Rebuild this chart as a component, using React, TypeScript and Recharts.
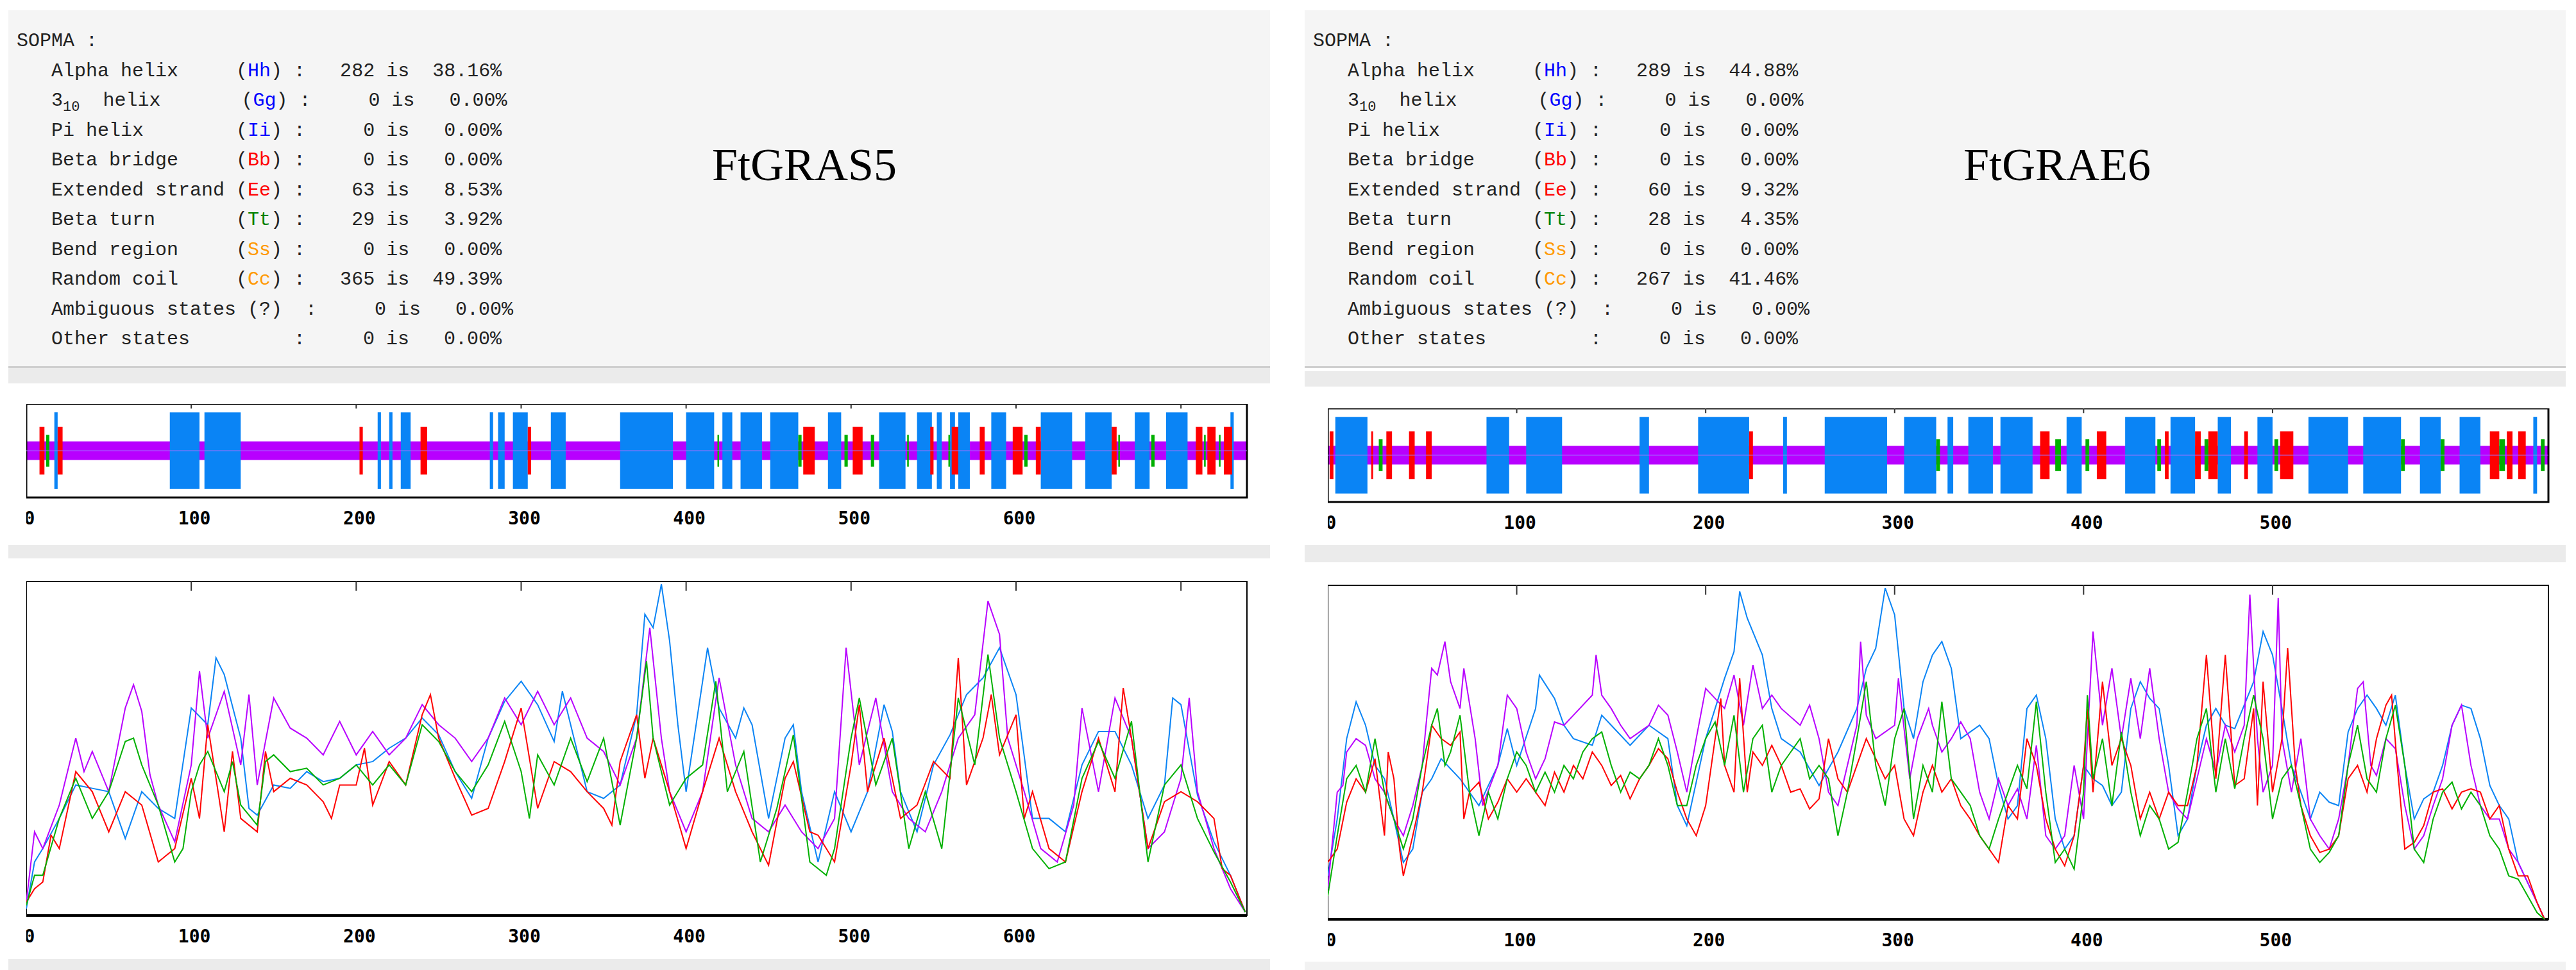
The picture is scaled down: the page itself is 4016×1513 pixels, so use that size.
import React from 'react'
import { ComposedChart, LineChart, Line, XAxis, YAxis, ReferenceArea, ReferenceLine } from 'recharts'

// ---- SOPMA summary rows ----
const rowsA = [
  ['Alpha helix     ', 'Hh', ' :   282 is  38.16%'],
  ['3|  helix       ', 'Gg', ' :     0 is   0.00%'],
  ['Pi helix        ', 'Ii', ' :     0 is   0.00%'],
  ['Beta bridge     ', 'Bb', ' :     0 is   0.00%'],
  ['Extended strand ', 'Ee', ' :    63 is   8.53%'],
  ['Beta turn       ', 'Tt', ' :    29 is   3.92%'],
  ['Bend region     ', 'Ss', ' :     0 is   0.00%'],
  ['Random coil     ', 'Cc', ' :   365 is  49.39%'],
]
const rowsB = [
  ['Alpha helix     ', 'Hh', ' :   289 is  44.88%'],
  ['3|  helix       ', 'Gg', ' :     0 is   0.00%'],
  ['Pi helix        ', 'Ii', ' :     0 is   0.00%'],
  ['Beta bridge     ', 'Bb', ' :     0 is   0.00%'],
  ['Extended strand ', 'Ee', ' :    60 is   9.32%'],
  ['Beta turn       ', 'Tt', ' :    28 is   4.35%'],
  ['Bend region     ', 'Ss', ' :     0 is   0.00%'],
  ['Random coil     ', 'Cc', ' :   267 is  41.46%'],
]
const codeColors: Record<string, string> = {
  Hh: '#0000ff', Gg: '#0000ff', Ii: '#0000ff', Bb: '#ff0000', Ee: '#ff0000', Tt: '#008000', Ss: '#ff9900', Cc: '#ff9900',
}

// ---- FtGRAS5 strip (residue ranges) ----
const lenA = 740
const helixA = [[17, 19], [87, 105], [108, 130], [213, 215], [220, 222], [227, 233], [281, 283], [286, 290], [295, 304], [318, 327], [360, 392], [400, 417], [422, 428], [433, 446], [451, 468], [486, 494], [517, 533], [540, 549], [552, 555], [560, 563], [565, 572], [585, 594], [615, 634], [642, 658], [672, 681], [691, 704], [730, 732]]
const strandA = [[8, 11], [19, 22], [202, 204], [239, 243], [304, 306], [471, 478], [501, 507], [548, 550], [561, 565], [578, 581], [598, 604], [612, 615], [658, 661], [709, 713], [716, 721], [726, 731]]
const turnA = [[12, 14], [419, 420], [468, 470], [496, 498], [512, 514], [534, 535], [559, 560], [605, 607], [662, 663], [682, 684], [714, 715], [723, 724]]

// ---- FtGRAE6 strip ----
const lenB = 646
const helixB = [[4, 21], [84, 96], [105, 124], [165, 170], [196, 223], [241, 243], [263, 296], [305, 322], [328, 331], [339, 352], [356, 373], [391, 399], [422, 438], [446, 459], [471, 478], [492, 500], [519, 540], [548, 568], [578, 589], [599, 610], [638, 640]]
const strandB = [[1, 3], [23, 24], [31, 34], [43, 46], [52, 55], [223, 225], [377, 382], [407, 412], [443, 445], [459, 462], [466, 471], [485, 487], [504, 511], [615, 620], [624, 627], [630, 634]]
const turnB = [[27, 29], [322, 324], [385, 388], [401, 403], [439, 441], [464, 466], [501, 503], [568, 570], [589, 591], [620, 623], [642, 644]]

const ticksA = [0, 100, 200, 300, 400, 500, 600]
const ticksB = [0, 100, 200, 300, 400, 500]

// ---- FtGRAS5 profile curves [residue, value] ----
const blueA = [[0,2],[5,16],[10,20],[20,29],[30,39],[40,38],[50,37],[60,23],[70,37],[80,32],[90,29],[100,62],[110,57],[115,77],[120,72],[130,53],[135,32],[140,30],[150,39],[160,38],[170,43],[180,40],[190,41],[200,45],[210,46],[220,50],[230,53],[240,59],[250,54],[260,43],[270,35],[280,53],[290,64],[300,70],[310,63],[320,52],[325,67],[330,57],[340,37],[350,35],[360,39],[370,60],[375,90],[380,86],[385,99],[390,82],[395,57],[400,37],[410,70],[413,80],[420,62],[430,53],[435,62],[440,57],[450,29],[460,53],[465,57],[470,37],[480,16],[490,37],[500,25],[510,37],[520,63],[525,55],[530,37],[540,25],[550,45],[560,54],[570,66],[580,71],[590,80],[600,66],[610,29],[620,29],[630,25],[640,45],[650,55],[660,55],[670,45],[680,29],[690,39],[695,65],[700,63],[710,36],[720,22],[730,12],[739,1]]
const purpleA = [[0,4],[5,25],[10,20],[20,33],[30,53],[35,43],[40,49],[50,37],[60,62],[65,69],[70,61],[75,42],[80,33],[90,22],[100,45],[105,73],[110,53],[120,67],[130,45],[135,66],[140,39],[150,65],[160,56],[170,53],[180,48],[190,58],[200,48],[210,55],[220,48],[230,53],[240,63],[250,57],[260,53],[270,46],[280,53],[290,65],[300,57],[310,67],[320,57],[330,65],[340,53],[350,49],[360,39],[370,53],[378,86],[385,53],[390,37],[400,25],[410,37],[420,71],[430,45],[440,29],[450,25],[460,33],[470,25],[480,20],[490,29],[497,80],[505,45],[515,65],[525,37],[535,29],[545,25],[555,37],[565,53],[575,60],[583,94],[590,84],[595,53],[605,37],[615,20],[625,16],[635,33],[640,62],[650,37],[660,65],[670,53],[680,20],[690,25],[700,41],[705,65],[710,37],[720,20],[730,8],[739,1]]
const redA = [[0,4],[5,8],[10,10],[15,24],[20,20],[30,43],[40,37],[50,25],[60,37],[70,33],[80,16],[90,20],[100,41],[105,29],[110,57],[120,25],[125,49],[130,29],[140,25],[145,49],[150,37],[160,41],[170,39],[180,34],[185,29],[190,39],[200,39],[205,50],[210,33],[220,46],[230,39],[240,60],[245,66],[250,53],[260,41],[270,30],[280,32],[290,46],[300,62],[310,32],[320,46],[330,43],[340,37],[350,32],[355,27],[360,46],[370,60],[375,41],[380,53],[390,37],[400,20],[410,37],[420,53],[430,37],[440,25],[450,15],[460,41],[465,46],[475,25],[480,24],[490,16],[500,45],[505,63],[510,37],[520,53],[530,29],[540,33],[550,46],[560,41],[565,77],[570,39],[580,53],[585,66],[590,48],[600,60],[605,29],[610,37],[620,20],[630,16],[640,37],[650,53],[660,37],[665,68],[670,53],[680,20],[690,34],[700,37],[710,34],[720,29],[725,14],[730,12],[739,1]]
const greenA = [[0,3],[5,12],[10,12],[20,29],[30,41],[40,29],[50,37],[60,52],[65,53],[70,45],[80,33],[90,16],[95,20],[100,37],[105,45],[110,49],[120,37],[125,46],[130,33],[140,27],[145,46],[150,48],[160,43],[170,44],[180,39],[190,41],[200,45],[210,39],[220,45],[230,39],[240,57],[250,52],[260,43],[270,37],[280,45],[290,58],[300,43],[305,29],[310,48],[320,39],[330,53],[340,40],[350,53],[360,27],[370,53],[376,76],[380,53],[390,33],[400,41],[410,45],[418,70],[425,37],[435,49],[445,16],[455,32],[465,54],[475,16],[485,12],[490,20],[500,53],[505,65],[515,39],[525,53],[535,20],[545,37],[555,20],[565,65],[575,45],[583,78],[590,53],[600,37],[610,20],[620,14],[630,16],[640,41],[650,52],[660,41],[670,58],[680,16],[690,39],[700,45],[710,29],[720,19],[730,10],[739,1]]

// ---- FtGRAE6 profile curves ----
const blueB = [[0,13],[5,30],[10,54],[15,65],[20,58],[25,46],[30,42],[35,30],[40,17],[45,21],[50,38],[55,42],[60,48],[70,42],[80,34],[90,46],[95,57],[100,46],[110,63],[112,73],[120,66],[125,58],[130,54],[140,52],[145,61],[150,58],[160,52],[170,58],[180,54],[185,34],[190,28],[200,54],[210,72],[215,80],[218,98],[222,90],[230,79],[235,63],[240,54],[250,50],[260,40],[270,50],[280,63],[285,75],[290,81],[295,99],[300,91],[305,63],[310,54],[315,71],[320,79],[325,83],[330,75],[335,54],[340,56],[345,58],[350,54],[355,40],[360,30],[365,34],[370,63],[375,67],[380,54],[385,30],[390,21],[395,25],[400,46],[405,42],[410,40],[415,34],[420,38],[425,63],[430,71],[435,66],[440,63],[445,46],[450,25],[455,30],[460,46],[465,58],[470,63],[475,58],[480,57],[490,71],[495,86],[500,79],[505,63],[510,46],[515,38],[520,30],[525,38],[530,35],[535,34],[540,56],[545,63],[550,67],[555,63],[560,58],[565,67],[570,46],[575,30],[580,36],[585,38],[590,46],[595,58],[600,64],[605,63],[610,54],[615,40],[620,34],[625,30],[630,17],[640,5],[644,0]]
const purpleB = [[0,9],[5,38],[8,40],[10,50],[15,54],[20,52],[25,42],[30,38],[35,30],[40,25],[45,34],[50,46],[52,58],[55,75],[58,73],[62,83],[65,71],[70,63],[72,75],[78,54],[82,34],[90,46],[95,67],[100,63],[105,50],[110,42],[115,48],[120,59],[125,58],[130,61],[140,67],[142,79],[145,67],[150,63],[155,58],[160,54],[170,58],[175,64],[180,61],[185,50],[190,38],[195,54],[200,69],[210,63],[215,73],[220,58],[225,76],[230,63],[235,67],[240,63],[250,58],[255,64],[260,54],[265,38],[270,34],[280,58],[282,83],[285,61],[290,54],[300,58],[302,72],[308,42],[312,54],[318,63],[320,58],[325,50],[330,54],[335,59],[340,54],[345,38],[350,30],[355,42],[360,34],[365,39],[370,30],[375,52],[380,25],[385,21],[390,25],[395,46],[400,30],[402,54],[405,86],[410,58],[415,75],[420,54],[425,72],[430,54],[435,75],[440,54],[445,38],[450,33],[455,30],[460,42],[465,54],[470,44],[475,58],[480,50],[485,58],[488,97],[492,54],[495,38],[500,46],[503,96],[505,54],[510,38],[515,54],[520,30],[525,25],[530,21],[535,30],[540,46],[545,69],[548,71],[552,46],[555,43],[560,54],[565,51],[570,34],[575,21],[580,25],[585,34],[590,42],[595,58],[600,64],[605,46],[610,34],[615,30],[620,30],[625,21],[630,17],[640,5],[644,0]]
const redB = [[0,17],[5,21],[10,35],[15,42],[20,38],[25,48],[30,25],[32,50],[35,42],[38,21],[40,13],[45,25],[50,38],[55,58],[60,54],[65,52],[70,56],[72,30],[75,38],[80,41],[85,30],[90,35],[95,42],[100,38],[105,42],[110,38],[115,34],[120,44],[125,38],[130,46],[135,42],[140,50],[145,46],[150,40],[155,43],[160,36],[165,42],[170,46],[175,51],[180,48],[185,38],[190,30],[195,25],[200,34],[205,54],[208,66],[210,46],[215,38],[218,72],[222,38],[225,50],[230,46],[235,52],[240,46],[245,38],[250,39],[255,33],[260,36],[265,54],[270,42],[275,38],[280,46],[285,54],[290,48],[295,42],[300,46],[305,30],[310,25],[315,38],[320,46],[325,38],[330,42],[335,34],[340,30],[345,25],[350,21],[355,17],[360,34],[365,30],[370,54],[375,46],[380,30],[385,21],[390,16],[395,25],[400,46],[402,63],[405,38],[410,71],[415,46],[420,54],[425,46],[430,30],[435,38],[440,30],[445,38],[450,34],[455,34],[460,46],[465,79],[470,42],[475,79],[480,40],[485,42],[490,63],[492,34],[495,71],[500,38],[505,54],[508,81],[512,46],[515,34],[520,25],[525,20],[530,21],[535,25],[540,42],[545,46],[550,38],[555,54],[560,64],[563,67],[566,46],[570,21],[575,23],[580,28],[585,38],[590,39],[595,33],[600,38],[605,39],[610,38],[615,30],[620,34],[625,21],[630,13],[635,13],[640,5],[644,0]]
const greenB = [[0,7],[5,25],[10,42],[15,46],[20,38],[25,54],[30,38],[35,30],[40,21],[45,30],[50,46],[55,58],[58,63],[62,46],[65,50],[70,61],[75,38],[80,25],[85,38],[90,30],[95,42],[100,50],[105,46],[110,38],[115,44],[120,38],[125,46],[130,42],[135,50],[140,54],[145,56],[150,46],[155,38],[160,44],[165,42],[170,46],[175,54],[180,46],[185,34],[190,34],[195,46],[200,54],[205,59],[210,46],[215,61],[220,38],[225,54],[230,58],[235,38],[240,46],[245,50],[250,54],[255,42],[260,46],[265,42],[270,25],[275,38],[280,54],[285,71],[290,46],[295,34],[300,54],[305,63],[310,30],[315,46],[320,38],[325,65],[330,42],[335,38],[340,34],[345,25],[350,21],[355,30],[360,38],[365,46],[370,39],[375,65],[380,38],[385,17],[390,21],[395,15],[400,38],[402,67],[405,42],[410,54],[415,34],[420,56],[425,38],[430,25],[435,34],[440,30],[445,21],[450,23],[455,38],[460,54],[465,63],[470,38],[475,54],[480,39],[485,54],[490,67],[495,54],[500,30],[505,42],[510,46],[515,34],[520,21],[525,17],[530,20],[535,25],[540,46],[545,58],[550,42],[555,38],[560,54],[565,64],[570,46],[575,21],[580,17],[585,30],[590,38],[595,41],[600,33],[605,38],[610,34],[615,25],[620,21],[625,13],[630,12],[640,2],[644,0]]

const BLUE = '#0a84f5'
const PURPLE = '#b800ff'
const RED = '#ff0000'
const GREEN = '#00b000'

const mono = '"Liberation Mono", "DejaVu Sans Mono", monospace'

function TickLabel(props: any) {
  const { x, y, payload } = props
  return (
    <text x={x + 5} y={y + 34} textAnchor="middle" fontFamily='"DejaVu Sans Mono", monospace' fontWeight="bold" fontSize={28} fill="#000">
      {payload.value}
    </text>
  )
}

function SummaryBox({ left, width, rows, title, titleX }: any) {
  return (
    <div style={{ position: 'absolute', left, top: 16, width, height: 555, background: '#f5f5f5', borderBottom: '3px solid #cfcfcf' }}>
      <div style={{ position: 'absolute', left: 13, top: 25, fontFamily: mono, fontSize: 30, lineHeight: '46.5px', whiteSpace: 'pre', color: '#222' }}>
        <div>SOPMA :</div>
        {rows.map((r: string[], i: number) => {
          const label = r[0].startsWith('3|') ? (
            <span>3<span style={{ fontSize: 22, position: 'relative', top: 8 }}>10</span>{r[0].slice(2)}</span>
          ) : r[0]
          return (
            <div key={i} style={{ height: 46.5 }}>
              {'   '}{label}(<span style={{ color: codeColors[r[1]] }}>{r[1]}</span>){r[2]}
            </div>
          )
        })}
        <div>{'   Ambiguous states (?)  :     0 is   0.00%'}</div>
        <div>{'   Other states         :     0 is   0.00%'}</div>
      </div>
      <div style={{ position: 'absolute', left: titleX, top: 200, fontFamily: '"Liberation Serif", serif', fontSize: 72, color: '#000' }}>{title}</div>
    </div>
  )
}

function Strip({ left, top, len, ticks, helix, strand, turn }: any) {
  const plotW = 1903
  const data = [{ x: 0, y: 0 }, { x: len, y: 0 }]
  return (
    <div style={{ position: 'absolute', left, top }}>
      <ComposedChart width={plotW + 30} height={146 + 60} data={data} margin={{ top: 0, right: 30, bottom: 0, left: 0 }}>
        <XAxis dataKey="x" type="number" domain={[0, len]} ticks={ticks} interval={0} axisLine={false} tickLine={false} height={60} tick={<TickLabel />} />
        <YAxis type="number" domain={[-1, 1]} hide />
        <Line dataKey="y" stroke="none" dot={false} isAnimationActive={false} />
        <ReferenceArea x1={0} x2={len} y1={-0.2} y2={0.2} fill={PURPLE} fillOpacity={1} stroke="none" />
        {helix.map((s: number[], i: number) => (
          <ReferenceArea key={'h' + i} x1={s[0]} x2={s[1]} y1={-0.82} y2={0.82} fill={BLUE} fillOpacity={1} stroke="none" />
        ))}
        {strand.map((s: number[], i: number) => (
          <ReferenceArea key={'e' + i} x1={s[0]} x2={s[1]} y1={-0.51} y2={0.51} fill={RED} fillOpacity={1} stroke="none" />
        ))}
        {turn.map((s: number[], i: number) => (
          <ReferenceArea key={'t' + i} x1={s[0]} x2={s[1]} y1={-0.34} y2={0.34} fill={GREEN} fillOpacity={1} stroke="none" />
        ))}
        <ReferenceLine y={0} stroke="#a070ff" strokeWidth={1} />
        {ticks.slice(1).concat([700]).filter((t: number) => t < len).map((t: number) => (
          <ReferenceLine key={'tk' + t} segment={[{ x: t, y: 0.9 }, { x: t, y: 1 }]} stroke="#333" strokeWidth={2} />
        ))}
        <ReferenceArea x1={0} x2={len} y1={-1} y2={1} fill="none" stroke="#000" strokeWidth={3} />
      </ComposedChart>
    </div>
  )
}

function toRows(series: Record<string, number[][]>) {
  // merge sampled curves onto shared x positions
  const xs = new Set<number>()
  Object.values(series).forEach((s) => s.forEach((p) => xs.add(p[0])))
  return Array.from(xs).sort((a, b) => a - b).map((x) => {
    const row: any = { x }
    Object.entries(series).forEach(([k, s]) => {
      const hit = s.find((p) => p[0] === x)
      if (hit) row[k] = hit[1]
    })
    return row
  })
}

function Profile({ left, top, len, ticks, curves }: any) {
  const plotW = 1903
  const data = toRows(curves)
  return (
    <div style={{ position: 'absolute', left, top }}>
      <LineChart width={plotW + 30} height={522 + 60} data={data} margin={{ top: 0, right: 30, bottom: 0, left: 0 }}>
        <XAxis dataKey="x" type="number" domain={[0, len]} ticks={ticks} interval={0} axisLine={false} tickLine={false} height={60} tick={<TickLabel />} />
        <YAxis type="number" domain={[0, 100]} hide />
        <ReferenceArea x1={0} x2={len} y1={0} y2={100} fill="none" stroke="#000" strokeWidth={2} />
        <ReferenceLine y={0} stroke="#000" strokeWidth={4} />
        <ReferenceLine y={100} stroke="#000" strokeWidth={4} />
        {ticks.slice(1).concat([700]).filter((t: number) => t < len).map((t: number) => (
          <ReferenceLine key={'tk' + t} segment={[{ x: t, y: 97 }, { x: t, y: 100 }]} stroke="#333" strokeWidth={2} />
        ))}
        {[BLUE, PURPLE, RED, GREEN].map((c, i) => (
          <Line key={c} dataKey={['blue', 'purple', 'red', 'green'][i]} stroke={c} strokeWidth={2} dot={false} connectNulls type="linear" isAnimationActive={false} />
        ))}
      </LineChart>
    </div>
  )
}

export default function App() {
  return (
    <div style={{ position: 'fixed', left: 0, top: 0, width: 4016, height: 1513, background: '#fff', overflow: 'hidden' }}>
      <SummaryBox left={13} width={1967} rows={rowsA} title="FtGRAS5" titleX={1097} />
      <div style={{ position: 'absolute', left: 13, top: 574, width: 1967, height: 24, background: '#ebebeb' }} />
      <SummaryBox left={2034} width={1966} rows={rowsB} title="FtGRAE6" titleX={1027} />
      <div style={{ position: 'absolute', left: 2034, top: 579, width: 1966, height: 24, background: '#ebebeb' }} />

      <Strip left={41} top={630} len={lenA} ticks={ticksA} helix={helixA} strand={strandA} turn={turnA} />
      <Strip left={2070} top={637} len={lenB} ticks={ticksB} helix={helixB} strand={strandB} turn={turnB} />

      <div style={{ position: 'absolute', left: 13, top: 850, width: 1967, height: 21, background: '#ebebeb' }} />
      <div style={{ position: 'absolute', left: 2034, top: 850, width: 1966, height: 27, background: '#ebebeb' }} />

      <Profile left={41} top={906} len={lenA} ticks={ticksA} curves={{ blue: blueA, purple: purpleA, red: redA, green: greenA }} />
      <Profile left={2070} top={912} len={lenB} ticks={ticksB} curves={{ blue: blueB, purple: purpleB, red: redB, green: greenB }} />

      <div style={{ position: 'absolute', left: 13, top: 1496, width: 1967, height: 17, background: '#ebebeb' }} />
      <div style={{ position: 'absolute', left: 2034, top: 1500, width: 1966, height: 13, background: '#f2f2f2' }} />
    </div>
  )
}
